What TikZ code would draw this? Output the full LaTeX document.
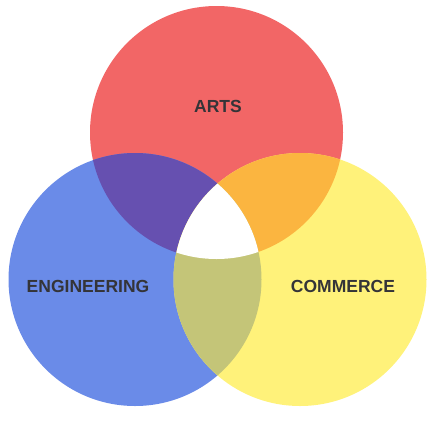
\documentclass[tikz,border=0pt]{standalone}
\usepackage{fontspec}
\setmainfont{Liberation Sans}
\definecolor{artsred}{RGB}{242,102,102}
\definecolor{engblue}{RGB}{106,139,232}
\definecolor{comyellow}{RGB}{255,242,122}
\definecolor{artseng}{RGB}{102,80,176}
\definecolor{artscom}{RGB}{251,181,64}
\definecolor{engcom}{RGB}{196,197,120}
\definecolor{labelgray}{RGB}{52,52,56}

\begin{document}
\begin{tikzpicture}[x=1pt, y=-1pt,
  setlabel/.style={inner sep=0pt, text=labelgray, font=\bfseries\fontsize{17.5}{20}\selectfont}
]
\useasboundingbox (0,0) rectangle (431,424);
\coordinate (ca) at (216.5,132.5);
\coordinate (ce) at (135,279.5);
\coordinate (cc) at (300,279.5);

% the three sets
\fill[artsred] (ca) circle (126.5pt);
\fill[engblue] (ce) circle (126.5pt);
\fill[comyellow] (cc) circle (126.5pt);

% pairwise overlaps
\begin{scope}
  \clip (ca) circle (126.5pt);
  \fill[artseng] (ce) circle (126.5pt);
  \fill[artscom] (cc) circle (126.5pt);
\end{scope}
\begin{scope}
  \clip (ce) circle (126.5pt);
  \fill[engcom] (cc) circle (126.5pt);
  % middle
  \clip (cc) circle (126.5pt);
  \fill[white] (ca) circle (126.5pt);
\end{scope}

\node[setlabel] (arts) at (218,106) {ARTS};
\node[setlabel] (eng) at (88,286) {ENGINEERING};
\node[setlabel] (com) at (343,286) {COMMERCE};
\end{tikzpicture}
\end{document}
